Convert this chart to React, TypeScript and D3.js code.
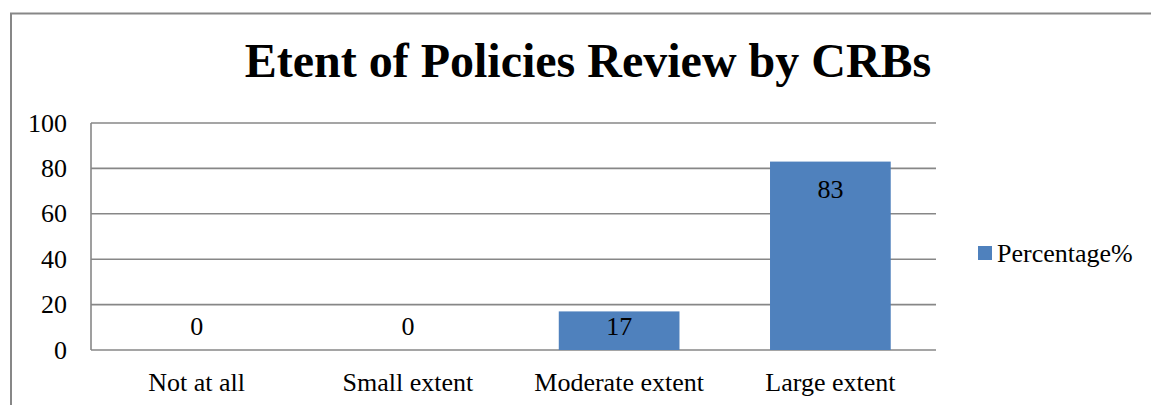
import * as d3 from "d3";

const W = 1151;
const H = 405;
const M = { top: 123, right: 215, bottom: 55, left: 91 };

const categories = ["Not at all", "Small extent", "Moderate extent", "Large extent"];
const percentage = [0, 0, 17, 83];
const yTicks = [0, 20, 40, 60, 80, 100];
const title = "Etent of Policies Review by CRBs";
const seriesName = "Percentage%";

const FONT = "'Liberation Serif', 'Times New Roman', serif";
const BAR = "#4F81BD";
const GRID = "#878787";

export default function App() {
  const x = d3
    .scaleBand<string>()
    .domain(categories)
    .range([M.left, W - M.right])
    .padding(0);
  const y = d3.scaleLinear().domain([0, 100]).range([H - M.bottom, M.top]);
  const barW = x.step() / 1.75; // excel gap width 75%
  const plotRight = W - M.right;

  return (
    <svg
      width={W}
      height={H}
      viewBox={`0 0 ${W} ${H}`}
      style={{ position: "absolute", left: 0, top: 0, background: "#fff" }}
      fontFamily={FONT}
    >
      <rect x={11} y={13.5} width={W + 20} height={H + 20} fill="#fff" stroke={GRID} strokeWidth={2} />

      <text x={588} y={77} textAnchor="middle" fontSize={48} fontWeight="bold" fill="#000">
        {title}
      </text>

      {yTicks.map((t) => (
        <g key={t}>
          <line x1={M.left} x2={plotRight} y1={y(t)} y2={y(t)} stroke={GRID} strokeWidth={1.6} />
          <text x={67} y={y(t) + 8.5} textAnchor="end" fontSize={26} fill="#000">
            {t}
          </text>
        </g>
      ))}
      <line x1={M.left} x2={M.left} y1={y(100)} y2={y(0)} stroke={GRID} strokeWidth={1.6} />

      {categories.map((c, i) => {
        const cx = (x(c) ?? 0) + x.bandwidth() / 2;
        const v = percentage[i];
        const labelY = Math.min(y(v) + 36, y(0) - 15);
        return (
          <g key={c}>
            {v > 0 && (
              <rect x={cx - barW / 2} y={y(v)} width={barW} height={y(0) - y(v)} fill={BAR} />
            )}
            <text x={cx} y={labelY} textAnchor="middle" fontSize={26} fill="#000">
              {v}
            </text>
            <text x={cx} y={391} textAnchor="middle" fontSize={26} fill="#000">
              {c}
            </text>
          </g>
        );
      })}

      <rect x={978} y={246} width={14} height={14} fill={BAR} />
      <text x={997} y={262} fontSize={26} fill="#000">
        {seriesName}
      </text>
    </svg>
  );
}
